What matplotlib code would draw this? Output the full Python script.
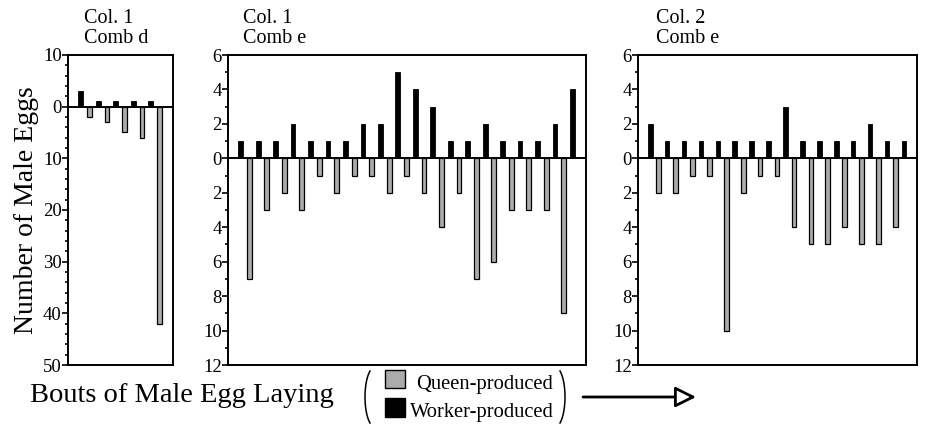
import matplotlib
matplotlib.use("Agg")
import matplotlib.pyplot as plt
import numpy as np
from matplotlib.patches import Rectangle, FancyArrowPatch
from matplotlib.lines import Line2D
from matplotlib.ticker import MultipleLocator

plt.rcParams['font.family'] = ['Liberation Serif', 'DejaVu Serif']

# Data: bouts alternate worker (even positions) / queen (odd positions)
p1_title = "Col. 1\nComb d"
p1_worker = [3, 1, 1, 1, 1]
p1_queen = [2, 3, 5, 6, 42]

p2_title = "Col. 1\nComb e"
p2_worker = [1, 1, 1, 2, 1, 1, 1, 2, 2, 5, 4, 3, 1, 1, 2, 1, 1, 1, 2, 4]
p2_queen = [7, 3, 2, 3, 1, 2, 1, 1, 2, 1, 2, 4, 2, 7, 6, 3, 3, 3, 9]

p3_title = "Col. 2\nComb e"
p3_worker = [2, 1, 1, 1, 1, 1, 1, 1, 3, 1, 1, 1, 1, 2, 1, 1]
p3_queen = [2, 2, 1, 1, 10, 2, 1, 1, 4, 5, 5, 4, 5, 5, 4]

y_label = "Number of Male Eggs"
x_label = "Bouts of Male Egg Laying"
legend_labels = ["Queen-produced", "Worker-produced"]

W, H = 925, 425
fig = plt.figure(figsize=(W / 100, H / 100), dpi=100)

QUEEN_COLOR = "#ababab"


def px_axes(left, top, right, bottom):
    return fig.add_axes([left / W, 1 - bottom / H, (right - left) / W, (bottom - top) / H])


def draw_panel(ax, worker, queen, ymin, ymax, ystep, yminor, title, title_px):
    n = len(worker) + len(queen)
    xw = np.arange(len(worker)) * 2
    xq = np.arange(len(queen)) * 2 + 1
    bw = 0.55
    ax.bar(xw, worker, width=bw, color="black", edgecolor="black", linewidth=0.6, zorder=3)
    ax.bar(xq, -np.array(queen), width=bw, color=QUEEN_COLOR, edgecolor="black",
           linewidth=0.9, zorder=3)
    ax.axhline(0, color="black", lw=1.4, zorder=4)
    ax.set_xlim(-1.45, n - 1 + 1.55)
    ax.set_ylim(ymin, ymax)
    ticks = np.arange(ymax, ymin - 0.001, -ystep)
    ax.set_yticks(ticks)
    ax.set_yticklabels([f"{abs(int(t))}" for t in ticks])
    ax.yaxis.set_minor_locator(MultipleLocator(yminor))
    ax.set_xticks([])
    ax.tick_params(axis="y", which="major", direction="out", length=4, width=1.2,
                   labelsize=13.5, pad=0.5)
    ax.tick_params(axis="y", which="minor", direction="out", length=2, width=1.2)
    for s in ax.spines.values():
        s.set_linewidth(1.4)
    pos = ax.get_position()
    fig.text(pos.x0 + title_px / W, 1 - 43 / H, title, fontsize=14.5,
             ha="left", va="baseline", linespacing=1.1)


ax1 = px_axes(68, 55, 173, 365)
draw_panel(ax1, p1_worker, p1_queen, -50, 10, 10, 2, p1_title, 16)
ax2 = px_axes(228, 55, 586, 365)
draw_panel(ax2, p2_worker, p2_queen, -12, 6, 2, 1, p2_title, 15)
ax3 = px_axes(638, 55, 917, 365)
draw_panel(ax3, p3_worker, p3_queen, -12, 6, 2, 1, p3_title, 18)

fig.text(27 / W, 1 - 210 / H, y_label, rotation=90, fontsize=20, ha="center", va="center")
fig.text(30 / W, 1 - 396 / H, x_label, fontsize=20.5, ha="left", va="center")

# legend with parentheses
fig.add_artist(Rectangle((385 / W, 1 - 388 / H), 20 / W, 18 / H, transform=fig.transFigure,
                         facecolor=QUEEN_COLOR, edgecolor="black", lw=1.0))
fig.add_artist(Rectangle((385 / W, 1 - 417 / H), 20 / W, 19 / H, transform=fig.transFigure,
                         facecolor="black", edgecolor="black", lw=1.0))
fig.text(416 / W, 1 - 384 / H, legend_labels[0], fontsize=14.8, ha="left", va="center")
fig.text(410 / W, 1 - 412 / H, legend_labels[1], fontsize=14.8, ha="left", va="center")


def paren(cx, cy, a, b, t1, t2):
    t = np.radians(np.linspace(t1, t2, 60))
    xs = (cx + a * np.cos(t)) / W
    ys = 1 - (cy - b * np.sin(t)) / H
    fig.add_artist(Line2D(xs, ys, transform=fig.transFigure, lw=1.1, color="black"))


paren(375, 397, 10, 30, 120, 240)
paren(555, 397, 10, 30, -60, 60)

# arrow
fig.add_artist(FancyArrowPatch((583 / W, 1 - 397 / H), (696 / W, 1 - 397 / H),
                               transform=fig.transFigure, arrowstyle="-|>,head_length=0.9,head_width=0.45",
                               mutation_scale=14, lw=2.0, facecolor="white", edgecolor="black",
                               shrinkA=0, shrinkB=0))

fig.savefig("out.png", dpi=100)
